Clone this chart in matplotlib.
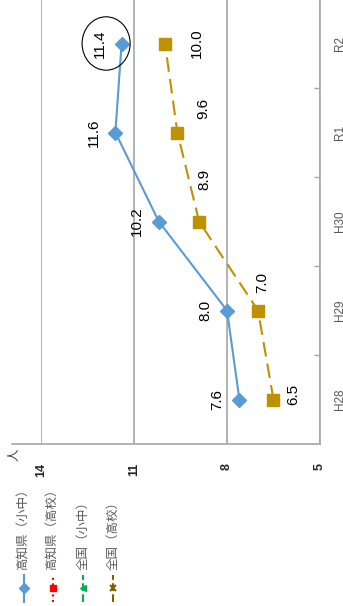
import matplotlib
matplotlib.use('Agg')
import matplotlib.pyplot as plt
from matplotlib.lines import Line2D
from matplotlib.patches import Ellipse

# data (chart is drawn rotated 90 degrees, as in the reference)
categories = ['H28', 'H29', 'H30', 'R1', 'R2']
kochi_elem_mid = [7.6, 8.0, 10.2, 11.6, 11.4]
national_high = [6.5, 7.0, 8.9, 9.6, 10.0]
value_ticks = [14, 11, 8, 5]
legend_labels = ['高知県（小中）', '高知県（高校）', '全国（小中）', '全国（高校）']

# hand-nudged data label offsets, in pixels
blue_offsets = [(-22, 0)] * 5
gold_offsets = [(20, 5), (4, 28), (5, 42), (26, 24), (32, 0)]

plt.rcParams['font.family'] = ['Liberation Sans', 'Noto Sans CJK JP', 'DejaVu Sans']

W, H = 343, 606
fig = plt.figure(figsize=(W / 100, H / 100), dpi=100)
ax = fig.add_axes([41 / W, 162 / H, 279 / W, 445 / H])

y = list(range(len(categories)))
ax.plot(kochi_elem_mid, y, color='#5B9BD5', lw=1.5, marker='D', ms=7, zorder=3)
ax.plot(national_high, y, color='#BF9000', lw=1.5, ls=(0, (7, 3.5)), marker='s', ms=8, zorder=3)

for vals, offs in [(kochi_elem_mid, blue_offsets), (national_high, gold_offsets)]:
    for i, (v, off) in enumerate(zip(vals, offs)):
        ax.annotate(f'{v:.1f}', (v, i), xytext=off, textcoords='offset pixels',
                    rotation=90, ha='center', va='center', fontsize=11, color='black')

# highlight circle around the latest value
ax.add_patch(Ellipse((kochi_elem_mid[-1] + 0.5, y[-1]), 1.55, 0.6,
                     fill=False, ec='black', lw=0.8, zorder=4))

ax.set_xlim(14, 5)
ax.set_ylim(-0.5, 4.5)
ax.set_xticks(value_ticks)
ax.set_xticklabels([str(t) for t in value_ticks], rotation=90, fontweight='bold')
ax.tick_params(axis='x', length=0, pad=13.5, labelsize=9, labelcolor='#262626')
ax.grid(axis='x', color='#A6A6A6', lw=1.2)
ax.set_axisbelow(True)

ax.yaxis.tick_right()
ax.set_yticks(y)
ax.set_yticklabels(categories, rotation=90, va='center')
ax.set_yticks([0.5, 1.5, 2.5, 3.5], minor=True)
ax.tick_params(axis='y', which='major', length=0, pad=10, labelsize=8.5, labelcolor='#595959')
ax.tick_params(axis='y', which='minor', direction='in', length=4, color='#A6A6A6', width=1)

for s in ['left', 'top', 'bottom']:
    ax.spines[s].set_visible(False)
ax.spines['right'].set_color('#A6A6A6')
ax.spines['right'].set_linewidth(1.2)

# category axis line, runs a little past the plot area
fig.add_artist(Line2D([12 / W, 320 / W], [1 - 444 / H] * 2, color='#A6A6A6', lw=1.2))

fig.text(15 / W, 1 - 455 / H, '人', rotation=90, ha='center', va='center',
         fontsize=9, color='#404040')

# legend, drawn by hand because the text is rotated
legend_styles = [
    dict(color='#5B9BD5', ls='-', marker='D', ms=5),
    dict(color='#FF0000', ls=':', marker='s', ms=5),
    dict(color='#00B050', ls='--', marker='<', ms=5),
    dict(color='#7F6000', ls='--', marker='x', ms=5, mew=1.5),
]
leg_x = [24, 53, 83, 113]
for lx, lab, st in zip(leg_x, legend_labels, legend_styles):
    fig.add_artist(Line2D([lx / W] * 3, [1 - 602 / H, 1 - 588 / H, 1 - 575 / H],
                          lw=1.5, markevery=[1], **st))
    fig.text(lx / W, 1 - 570 / H, lab, rotation=90, ha='center', va='bottom',
             fontsize=9, color='#595959')

fig.savefig('out.png', dpi=100)
